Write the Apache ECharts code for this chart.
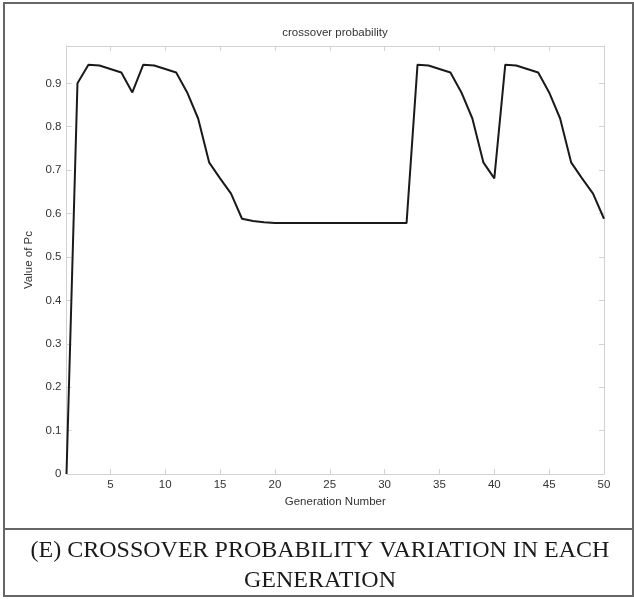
<!DOCTYPE html>
<html>
<head>
<meta charset="utf-8">
<script src="https://cdn.jsdelivr.net/npm/echarts@6/dist/echarts.min.js"></script>
<style>
html,body{margin:0;padding:0;background:#fff;}
#chart{width:634px;height:599px;}
</style>
</head>
<body>
<div id="chart"></div>
<script>
const chartTitle = 'crossover probability';
const xAxisName = 'Generation Number';
const yAxisName = 'Value of Pc';
const captionLines = ['(E) CROSSOVER PROBABILITY VARIATION IN EACH', 'GENERATION'];
const generations = [1,2,3,4,5,6,7,8,9,10,11,12,13,14,15,16,17,18,19,20,21,22,23,24,25,26,27,28,29,30,31,32,33,34,35,36,37,38,39,40,41,42,43,44,45,46,47,48,49,50];
const pcValues = [0,0.900,0.943,0.941,0.933,0.925,0.879,0.943,0.941,0.933,0.925,0.879,0.819,0.718,0.681,0.646,0.588,0.583,0.580,0.578,0.578,0.578,0.578,0.578,0.578,0.578,0.578,0.578,0.578,0.578,0.578,0.578,0.943,0.941,0.933,0.925,0.879,0.819,0.718,0.681,0.943,0.941,0.933,0.925,0.879,0.819,0.718,0.681,0.646,0.588];
const xTickValues = [5,10,15,20,25,30,35,40,45,50];
const yTickValues = [0,0.1,0.2,0.3,0.4,0.5,0.6,0.7,0.8,0.9];

const chart = echarts.init(document.getElementById('chart'), null, {renderer:'canvas'});
const boxColor = '#d2d2d2';
const txtColor = '#333333';
const font = 'Liberation Sans, Arial, Helvetica, sans-serif';
const seriesData = generations.map((g, i) => [g, pcValues[i]]);

function xAx(pos, showLabel) {
  return {
    type: 'value', position: pos, min: 1, max: 50,
    axisLine: {show: true, onZero: false, lineStyle: {color: boxColor, width: 1}},
    axisTick: {show: true, inside: true, length: 5, customValues: xTickValues, lineStyle: {color: boxColor}},
    axisLabel: {show: showLabel, customValues: xTickValues, margin: 5, color: txtColor, fontSize: 11.5, fontFamily: font},
    splitLine: {show: false},
    name: showLabel ? xAxisName : '', nameLocation: 'middle', nameGap: 19,
    nameTextStyle: {color: txtColor, fontSize: 11.5, fontFamily: font}
  };
}
function yAx(pos, showLabel) {
  return {
    type: 'value', position: pos, min: 0, max: 0.986, interval: 0.1,
    axisLine: {show: true, onZero: false, lineStyle: {color: boxColor, width: 1}},
    axisTick: {show: true, inside: true, length: 5, lineStyle: {color: boxColor}},
    axisLabel: {show: showLabel, showMaxLabel: false, margin: 5, color: txtColor, fontSize: 11.5, fontFamily: font,
      formatter: v => yTickValues.some(t => Math.abs(t - v) < 1e-6) ? String(Math.round(v * 10) / 10) : ''},
    splitLine: {show: false},
    name: showLabel ? yAxisName : '', nameLocation: 'middle', nameGap: 24, nameRotate: 90,
    nameTextStyle: {color: txtColor, fontSize: 11.5, fontFamily: font}
  };
}

chart.setOption({
  animation: false,
  backgroundColor: '#ffffff',
  grid: {left: 66.5, right: 30, top: 46, bottom: 125, containLabel: false},
  xAxis: [xAx('bottom', true), xAx('top', false)],
  yAxis: [yAx('left', true), yAx('right', false)],
  series: [{
    type: 'line', xAxisIndex: 0, yAxisIndex: 0, data: seriesData,
    symbol: 'none', lineStyle: {color: '#1a1a1a', width: 2}
  }],
  graphic: [
    {type: 'rect', shape: {x: 4, y: 3, width: 629, height: 593}, style: {fill: 'none', stroke: '#666666', lineWidth: 2}, silent: true},
    {type: 'line', shape: {x1: 4, y1: 529, x2: 634, y2: 529}, style: {stroke: '#666666', lineWidth: 2}, silent: true},
    {type: 'text', x: 335, y: 33, style: {text: chartTitle, align: 'center', verticalAlign: 'middle', fill: txtColor, font: '11.5px ' + font}},
    {type: 'text', x: 320, y: 551, style: {text: captionLines[0], align: 'center', verticalAlign: 'middle', fill: '#1a1a1a', font: '24px "Liberation Serif", "Times New Roman", serif'}},
    {type: 'text', x: 320, y: 581, style: {text: captionLines[1], align: 'center', verticalAlign: 'middle', fill: '#1a1a1a', font: '24px "Liberation Serif", "Times New Roman", serif'}}
  ]
});
</script>
</body>
</html>
